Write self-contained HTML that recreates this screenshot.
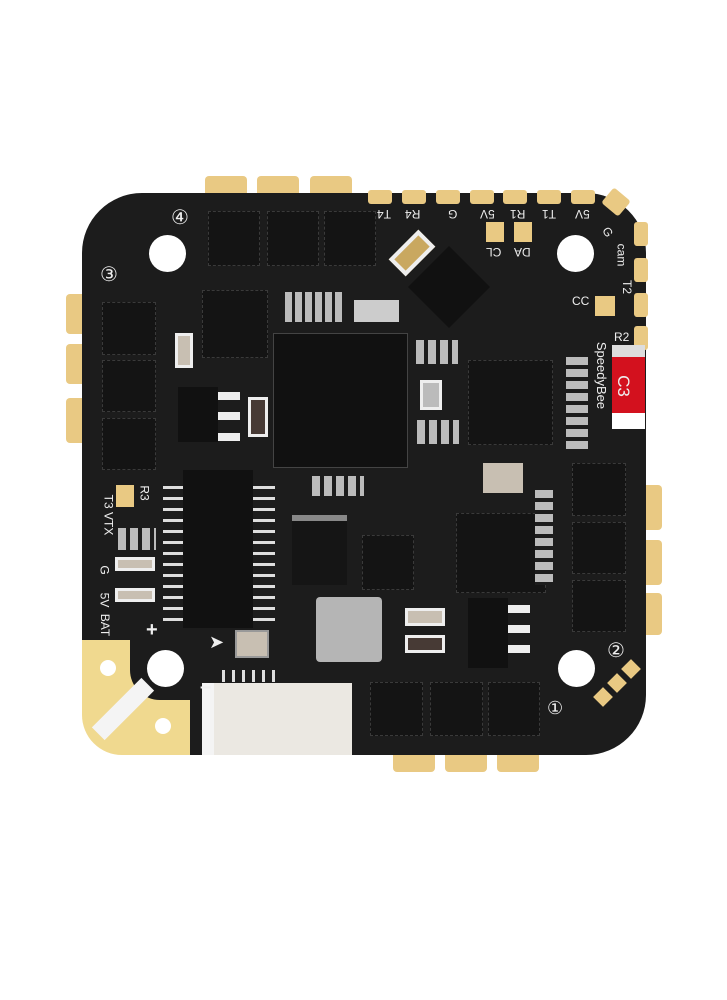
<!DOCTYPE html>
<html><head><style>
body{margin:0;width:727px;height:1000px;background:#fff;position:relative;overflow:hidden;font-family:"Liberation Sans",sans-serif}
div{position:absolute;box-sizing:border-box}
.g{background:#e9c983}
.sq{background:#141414;border:1px dashed #3a3a3a}
.h{background:#fff;border-radius:50%}
.t{color:#eee;font-size:12px;white-space:nowrap}
.tp{background:#e9c983;width:24px;height:14px;top:190px;border-radius:3px}
.rp{background:#e9c983;width:14px;height:24px;left:634px;border-radius:3px}
</style></head><body>
<!-- gold pads behind board -->
<div class="g" style="left:205px;top:176px;width:42px;height:30px;border-radius:4px"></div>
<div class="g" style="left:257px;top:176px;width:42px;height:30px;border-radius:4px"></div>
<div class="g" style="left:310px;top:176px;width:42px;height:30px;border-radius:4px"></div>
<div class="g" style="left:66px;top:294px;width:36px;height:40px;border-radius:4px"></div>
<div class="g" style="left:66px;top:344px;width:36px;height:40px;border-radius:4px"></div>
<div class="g" style="left:66px;top:398px;width:36px;height:45px;border-radius:4px"></div>
<div class="g" style="left:626px;top:485px;width:36px;height:45px;border-radius:4px"></div>
<div class="g" style="left:626px;top:540px;width:36px;height:45px;border-radius:4px"></div>
<div class="g" style="left:626px;top:593px;width:36px;height:42px;border-radius:4px"></div>
<div class="g" style="left:393px;top:740px;width:42px;height:32px;border-radius:4px"></div>
<div class="g" style="left:445px;top:740px;width:42px;height:32px;border-radius:4px"></div>
<div class="g" style="left:497px;top:740px;width:42px;height:32px;border-radius:4px"></div>
<!-- board -->
<div style="left:82px;top:193px;width:564px;height:562px;background:#1c1c1c;border-radius:60px"></div>
<!-- top/right small pads -->
<div class="tp" style="left:368px"></div>
<div class="tp" style="left:402px"></div>
<div class="tp" style="left:436px"></div>
<div class="tp" style="left:470px"></div>
<div class="tp" style="left:503px"></div>
<div class="tp" style="left:537px"></div>
<div class="tp" style="left:571px"></div>
<div class="g" style="left:605px;top:192px;width:22px;height:20px;border-radius:3px;transform:rotate(40deg)"></div>
<div class="rp" style="top:222px"></div>
<div class="rp" style="top:258px"></div>
<div class="rp" style="top:293px"></div>
<div class="rp" style="top:326px"></div>
<!-- bottom-left gold -->
<div class="g" style="left:82px;top:640px;width:108px;height:115px;border-radius:0 0 0 40px;background:#f0d98f"></div>
<div style="left:130px;top:640px;width:60px;height:60px;background:#1c1c1c;border-radius:0 0 0 30px"></div>
<div style="left:88px;top:700px;width:70px;height:18px;background:#f4f4f4;transform:rotate(-45deg)"></div>
<div class="h" style="left:100px;top:660px;width:16px;height:16px"></div>
<div class="h" style="left:155px;top:718px;width:16px;height:16px"></div>
<!-- holes -->
<div class="h" style="left:149px;top:235px;width:37px;height:37px"></div>
<div class="h" style="left:557px;top:235px;width:37px;height:37px"></div>
<div class="h" style="left:147px;top:650px;width:37px;height:37px"></div>
<div class="h" style="left:558px;top:650px;width:37px;height:37px"></div>
<!-- squares -->
<div class="sq" style="left:208px;top:211px;width:52px;height:55px"></div>
<div class="sq" style="left:267px;top:211px;width:52px;height:55px"></div>
<div class="sq" style="left:324px;top:211px;width:52px;height:55px"></div>
<div class="sq" style="left:102px;top:302px;width:54px;height:53px"></div>
<div class="sq" style="left:102px;top:360px;width:54px;height:52px"></div>
<div class="sq" style="left:102px;top:418px;width:54px;height:52px"></div>
<div class="sq" style="left:572px;top:463px;width:54px;height:53px"></div>
<div class="sq" style="left:572px;top:522px;width:54px;height:52px"></div>
<div class="sq" style="left:572px;top:580px;width:54px;height:52px"></div>
<div class="sq" style="left:370px;top:682px;width:53px;height:54px"></div>
<div class="sq" style="left:430px;top:682px;width:53px;height:54px"></div>
<div class="sq" style="left:488px;top:682px;width:52px;height:54px"></div>
<!-- chips -->
<div class="sq" style="left:273px;top:333px;width:135px;height:135px;background:#111;border:1px solid #444"></div>
<div class="sq" style="left:202px;top:290px;width:66px;height:68px"></div>
<div class="sq" style="left:468px;top:360px;width:85px;height:85px"></div>
<div class="sq" style="left:456px;top:513px;width:90px;height:80px"></div>
<div class="sq" style="left:362px;top:535px;width:52px;height:55px"></div>
<div style="left:163px;top:480px;width:112px;height:145px;background:repeating-linear-gradient(#1c1c1c 0 6px,#ddd 6px 9px,#1c1c1c 9px 11px)"></div>
<div style="left:183px;top:470px;width:70px;height:158px;background:#111"></div>
<div style="left:178px;top:387px;width:40px;height:55px;background:#111"></div>
<div style="left:218px;top:392px;width:22px;height:8px;background:#eee"></div>
<div style="left:218px;top:412px;width:22px;height:8px;background:#eee"></div>
<div style="left:218px;top:433px;width:22px;height:8px;background:#eee"></div>
<div style="left:468px;top:598px;width:40px;height:70px;background:#111"></div>
<div style="left:508px;top:605px;width:22px;height:8px;background:#eee"></div>
<div style="left:508px;top:625px;width:22px;height:8px;background:#eee"></div>
<div style="left:508px;top:645px;width:22px;height:8px;background:#eee"></div>
<div style="left:420px;top:258px;width:58px;height:58px;background:#111;transform:rotate(45deg)"></div>
<div style="left:400px;top:232px;width:24px;height:42px;background:#c9a860;transform:rotate(45deg);border:4px solid #eee"></div>
<div style="left:292px;top:515px;width:55px;height:70px;background:#151515;border-top:6px solid #888"></div>
<!-- gray parts -->
<div style="left:316px;top:597px;width:66px;height:65px;background:#b5b5b5;border-radius:4px"></div>
<div style="left:420px;top:380px;width:22px;height:30px;background:#bbb;border:3px solid #eee"></div>
<div style="left:483px;top:463px;width:40px;height:30px;background:#c8bfb2"></div>
<div style="left:235px;top:630px;width:34px;height:28px;background:#c8bfb2;border:2px solid #999"></div>
<div style="left:354px;top:300px;width:45px;height:22px;background:#ccc"></div>
<div style="left:175px;top:333px;width:18px;height:35px;background:#c8bfb2;border:3px solid #eee"></div>
<div style="left:248px;top:397px;width:20px;height:40px;background:#473a35;border:3px solid #eee"></div>
<div style="left:115px;top:557px;width:40px;height:14px;background:#c8bfb2;border:3px solid #eee"></div>
<div style="left:115px;top:588px;width:40px;height:14px;background:#c8bfb2;border:3px solid #eee"></div>
<div style="left:405px;top:608px;width:40px;height:18px;background:#c8bfb2;border:3px solid #eee"></div>
<div style="left:405px;top:635px;width:40px;height:18px;background:#473a35;border:3px solid #eee"></div>
<!-- small passives -->
<div style="left:285px;top:292px;width:60px;height:30px;background:repeating-linear-gradient(90deg,#bbb 0 7px,#1c1c1c 7px 10px)"></div>
<div style="left:416px;top:340px;width:42px;height:24px;background:repeating-linear-gradient(90deg,#bbb 0 8px,#1c1c1c 8px 12px)"></div>
<div style="left:417px;top:420px;width:42px;height:24px;background:repeating-linear-gradient(90deg,#bbb 0 8px,#1c1c1c 8px 12px)"></div>
<div style="left:312px;top:476px;width:52px;height:20px;background:repeating-linear-gradient(90deg,#bbb 0 8px,#1c1c1c 8px 12px)"></div>
<div style="left:535px;top:490px;width:18px;height:95px;background:repeating-linear-gradient(#bbb 0 8px,#1c1c1c 8px 12px)"></div>
<div style="left:566px;top:357px;width:22px;height:95px;background:repeating-linear-gradient(#bbb 0 8px,#1c1c1c 8px 12px)"></div>
<div style="left:118px;top:528px;width:38px;height:22px;background:repeating-linear-gradient(90deg,#bbb 0 8px,#1c1c1c 8px 12px)"></div>
<!-- gold small pads -->
<div class="g" style="left:486px;top:222px;width:18px;height:20px"></div>
<div class="g" style="left:514px;top:222px;width:18px;height:20px"></div>
<div class="g" style="left:595px;top:296px;width:20px;height:20px"></div>
<div class="g" style="left:116px;top:485px;width:18px;height:22px"></div>
<div class="g" style="left:596px;top:690px;width:14px;height:14px;transform:rotate(-45deg)"></div>
<div class="g" style="left:610px;top:676px;width:14px;height:14px;transform:rotate(-45deg)"></div>
<div class="g" style="left:624px;top:662px;width:14px;height:14px;transform:rotate(-45deg)"></div>
<!-- connector -->
<div style="left:202px;top:683px;width:150px;height:72px;background:#ebe8e2;border-left:12px solid #f4f4f4"></div>
<div style="left:222px;top:670px;width:55px;height:12px;background:repeating-linear-gradient(90deg,#ddd 0 3px,#1c1c1c 3px 10px)"></div>
<!-- red label -->
<div style="left:612px;top:345px;width:33px;height:12px;background:#ddd"></div>
<div style="left:612px;top:357px;width:33px;height:56px;background:#d3111e"></div>
<div style="left:612px;top:413px;width:33px;height:16px;background:#fff"></div>
<div class="t" style="left:612px;top:376px;font-size:17px;transform:rotate(90deg)">C3</div>
<!-- text -->
<div class="t" style="left:171px;top:205px;font-size:20px">④</div>
<div class="t" style="left:100px;top:262px;font-size:20px">③</div>
<div class="t" style="left:607px;top:638px;font-size:20px">②</div>
<div class="t" style="left:547px;top:698px;font-size:18px">①</div>
<div class="t" style="left:377px;top:207px;transform:rotate(180deg)">T4</div>
<div class="t" style="left:405px;top:207px;transform:rotate(180deg)">R4</div>
<div class="t" style="left:448px;top:207px;transform:rotate(180deg)">G</div>
<div class="t" style="left:480px;top:207px;transform:rotate(180deg)">5V</div>
<div class="t" style="left:510px;top:207px;transform:rotate(180deg)">R1</div>
<div class="t" style="left:542px;top:207px;transform:rotate(180deg)">T1</div>
<div class="t" style="left:575px;top:207px;transform:rotate(180deg)">5V</div>
<div class="t" style="left:486px;top:245px;transform:rotate(180deg)">CL</div>
<div class="t" style="left:514px;top:245px;transform:rotate(180deg)">DA</div>
<div class="t" style="left:603px;top:225px;transform:rotate(60deg)">G</div>
<div class="t" style="left:610px;top:248px;transform:rotate(90deg)">cam</div>
<div class="t" style="left:620px;top:280px;transform:rotate(90deg)">T2</div>
<div class="t" style="left:572px;top:294px">CC</div>
<div class="t" style="left:614px;top:330px">R2</div>
<div class="t" style="left:568px;top:368px;transform:rotate(90deg);font-size:13px">SpeedyBee</div>
<div class="t" style="left:137px;top:486px;transform:rotate(90deg)">R3</div>
<div class="t" style="left:88px;top:508px;transform:rotate(90deg)">T3 VTX</div>
<div class="t" style="left:100px;top:563px;transform:rotate(90deg)">G</div>
<div class="t" style="left:97px;top:593px;transform:rotate(90deg)">5V</div>
<div class="t" style="left:94px;top:618px;transform:rotate(90deg)">BAT</div>
<div class="t" style="left:146px;top:619px;font-size:20px;font-weight:bold">+</div>
<div class="t" style="left:200px;top:676px;font-size:20px;font-weight:bold">–</div>
<div class="t" style="left:209px;top:632px;font-size:18px">➤</div>
</body></html>
